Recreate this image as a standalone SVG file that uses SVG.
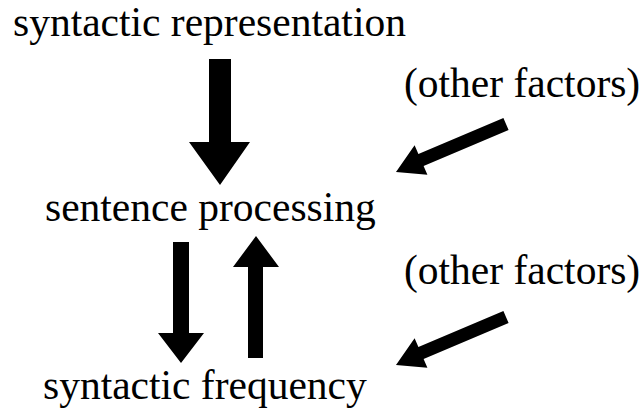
<svg xmlns="http://www.w3.org/2000/svg" width="642" height="419" viewBox="0 0 642 419">
<style>
text{font-family:"Liberation Serif","Times New Roman",serif;font-size:41.5px;fill:#000}
.arr{fill:#000}
</style>
<defs>
<polygon id="diag" points="503.4,118 508.6,130 423.6,166 427.4,174.7 396,172 414.6,145.3 418.4,154"/>
</defs>
<rect width="642" height="419" fill="#fff"/>
<g id="node-syntactic-representation"><text x="13" y="36">syntactic representation</text></g>
<g id="node-other-factors-1"><text x="404" y="97">(other factors)</text></g>
<g id="node-sentence-processing"><text x="45" y="221">sentence processing</text></g>
<g id="node-other-factors-2"><text x="404" y="284">(other factors)</text></g>
<g id="node-syntactic-frequency"><text x="43" y="399">syntactic frequency</text></g>
<g id="connectors" class="arr">
<polygon points="209,59 231,59 231,142 250,142 220,185 189,142 209,142"/>
<use href="#diag"/>
<polygon points="173,242 189,242 189,333 204,333 181,363 158,333 173,333"/>
<polygon points="248,358 263,358 263,267 279,267 256,236 233,267 248,267"/>
<use href="#diag" transform="translate(0,193)"/>
</g>
</svg>
